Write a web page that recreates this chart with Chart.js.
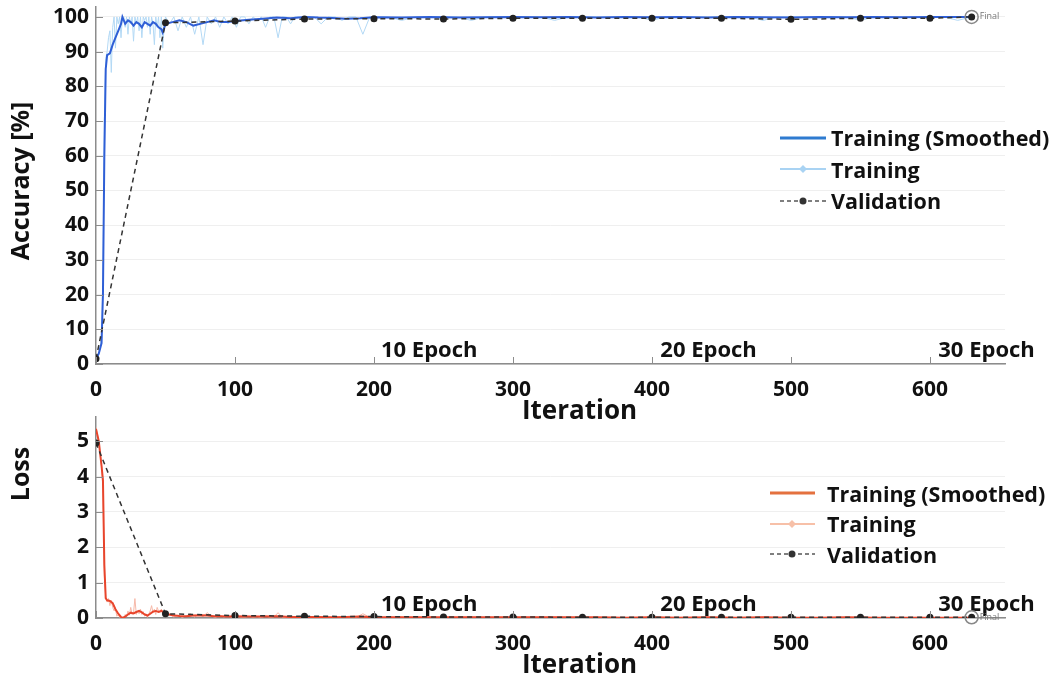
<!DOCTYPE html>
<html>
<head>
<meta charset="utf-8">
<script src="https://cdn.jsdelivr.net/npm/chart.js@4.4.0/dist/chart.umd.min.js"></script>
<style>
  body { margin: 0; background: #fff; width: 1052px; height: 682px; overflow: hidden; position: relative; font-family: "Open Sans", sans-serif; }
  #accBox { position: absolute; left: 0; top: -11px; width: 1052px; height: 436px; }
  #lossBox { position: absolute; left: 0; top: 399px; width: 1052px; height: 280px; }
  .legend { position: absolute; font-weight: 700; font-size: 21.5px; color: #111; }
  .legend div { display: flex; align-items: center; white-space: nowrap; }
  #accLegend { left: 780px; top: 122px; }
  #accLegend div { height: 31.5px; }
  #accLegend svg { margin-right: 5px; }
  #lossLegend { left: 770px; top: 478px; }
  #lossLegend div { height: 30.5px; }
  #lossLegend svg { margin-right: 12px; }
</style>
</head>
<body>
<div id="accBox"><canvas id="accChart"></canvas></div>
<div id="lossBox"><canvas id="lossChart"></canvas></div>

<div class="legend" id="accLegend">
  <div><svg width="46" height="14"><line x1="0" y1="7" x2="46" y2="7" stroke="#2e7bd0" stroke-width="3"/></svg>Training (Smoothed)</div>
  <div><svg width="46" height="14"><line x1="0" y1="7" x2="46" y2="7" stroke="#a9d3f3" stroke-width="2"/><path d="M23 3 L27 7 L23 11 L19 7 Z" fill="#a9d3f3"/></svg>Training</div>
  <div><svg width="46" height="14"><line x1="0" y1="7" x2="46" y2="7" stroke="#555" stroke-width="1.5" stroke-dasharray="4 3"/><circle cx="23" cy="7" r="3.5" fill="#333"/></svg>Validation</div>
</div>
<div class="legend" id="lossLegend">
  <div><svg width="45" height="14"><line x1="0" y1="7" x2="45" y2="7" stroke="#e4713f" stroke-width="3"/></svg>Training (Smoothed)</div>
  <div><svg width="45" height="14"><line x1="0" y1="7" x2="45" y2="7" stroke="#f7c0a8" stroke-width="2"/><path d="M22 3 L26 7 L22 11 L18 7 Z" fill="#f7c0a8"/></svg>Training</div>
  <div><svg width="45" height="14"><line x1="0" y1="7" x2="45" y2="7" stroke="#555" stroke-width="1.5" stroke-dasharray="4 3"/><circle cx="22" cy="7" r="3.5" fill="#333"/></svg>Validation</div>
</div>

<script>
// iterations of the raw training log
const rawIter = [
  0, 1, 2, 3, 4, 5, 6, 7, 8, 9,
  10, 11, 12, 13, 14, 15, 16, 17, 18, 19,
  20, 21, 22, 23, 24, 25, 26, 27, 28, 29,
  30, 31, 32, 33, 34, 35, 36, 37, 38, 39,
  40, 41, 42, 43, 44, 45, 46, 47, 48, 49,
  50, 53, 56, 59, 62, 65, 68, 71, 74, 77,
  80, 83, 86, 89, 92, 95, 98, 101, 104, 107,
  110, 113, 116, 119, 122, 125, 128, 131, 134, 137,
  140, 143, 146, 149, 152, 157, 162, 167, 172, 177,
  182, 187, 192, 197, 202, 210, 220, 230, 240, 250,
  260, 270, 280, 290, 300, 310, 320, 330, 340, 350,
  360, 370, 380, 390, 400, 410, 420, 430, 440, 450,
  460, 470, 480, 490, 500, 510, 520, 530, 540, 550,
  560, 570, 580, 590, 600, 610, 620, 630
];
const rawAcc = [
  0, 2, 3, 5, 8, 25, 70, 88, 90, 94,
  96, 84, 97, 100, 91, 100, 98, 100, 94, 100,
  100, 97, 100, 95, 100, 98, 100, 93, 100, 98,
  100, 96, 100, 94, 100, 99, 100, 97, 100, 95,
  100, 98, 92, 100, 97, 100, 94, 100, 91, 97,
  100, 98, 100, 96, 100, 97, 100, 95, 100, 92,
  100, 98, 100, 97, 100, 98, 100, 97, 100, 100,
  98, 100, 99, 100, 97, 100, 100, 94, 100, 100,
  98, 100, 100, 99, 100, 100, 98, 100, 100, 99,
  100, 100, 95, 100, 100, 100, 99, 100, 100, 100,
  100, 99, 100, 100, 100, 100, 100, 99, 100, 100,
  100, 100, 100, 100, 99, 100, 100, 100, 100, 100,
  100, 100, 99, 100, 100, 100, 100, 100, 100, 99,
  100, 100, 100, 100, 100, 100, 99, 100
];
const rawLoss = [
  5.4, 5.2, 5.0, 4.6, 4.3, 3.6, 1.2, 0.6, 0.45, 0.55,
  0.35, 0.5, 0.3, 0.2, 0.25, 0.05, 0.1, 0.02, 0, 0.02,
  0, 0.1, 0.04, 0.2, 0.08, 0.3, 0.1, 0.15, 0.55, 0.1,
  0.2, 0.12, 0.25, 0.1, 0.18, 0.05, 0.12, 0.02, 0.1, 0.2,
  0.35, 0.15, 0.25, 0.1, 0.3, 0.2, 0.15, 0.25, 0.1, 0.15,
  0.05, 0.1, 0.03, 0.08, 0.02, 0.06, 0.12, 0.03, 0.1, 0.04,
  0.15, 0.05, 0.02, 0.08, 0.03, 0.06, 0.02, 0.07, 0.03, 0.02,
  0.05, 0.02, 0.04, 0.01, 0.06, 0.02, 0.03, 0.15, 0.02, 0.01,
  0.04, 0.02, 0.01, 0.03, 0.02, 0.01, 0.04, 0.02, 0.01, 0.03,
  0.02, 0.01, 0.12, 0.02, 0.01, 0.02, 0.03, 0.01, 0.02, 0.01,
  0.02, 0.03, 0.01, 0.02, 0.01, 0.02, 0.01, 0.03, 0.01, 0.02,
  0.01, 0.02, 0.01, 0.01, 0.03, 0.01, 0.02, 0.01, 0.01, 0.02,
  0.01, 0.01, 0.03, 0.01, 0.01, 0.02, 0.01, 0.01, 0.01, 0.03,
  0.01, 0.01, 0.01, 0.02, 0.01, 0.01, 0.02, 0.01
];

// smoothed curves
const smoothIter = [
  0, 2, 4, 5, 6, 7, 8, 10, 12, 14,
  16, 18, 19, 21, 23, 25, 27, 29, 31, 33,
  35, 37, 39, 41, 43, 45, 47, 48, 50, 55,
  60, 65, 70, 75, 80, 85, 90, 95, 100, 110,
  120, 130, 140, 150, 160, 170, 180, 190, 200, 220,
  240, 260, 280, 300, 320, 340, 360, 380, 400, 420,
  440, 460, 480, 500, 520, 540, 560, 580, 600, 620,
  630
];
const smoothAcc = [
  1.5, 3, 6, 20, 60, 85, 89, 89.5, 92, 94,
  96, 98, 100, 98, 99, 98.5, 97.5, 98.5, 98, 97,
  98.5, 98, 97.5, 98.5, 98, 97, 96.5, 95.5, 98, 98.5,
  99, 98.5, 97.5, 98, 98.5, 99, 98.5, 98.5, 98.8, 99.2,
  99.5, 99.8, 99.6, 100, 99.8, 99.7, 99.5, 99.6, 99.9, 99.8,
  100, 99.8, 99.9, 100, 99.9, 100, 99.8, 100, 99.9, 100,
  99.8, 100, 99.9, 99.8, 100, 99.9, 100, 99.9, 100, 100,
  100
];
const smoothLoss = [
  5.35, 5.0, 4.3, 3.9, 1.5, 0.56, 0.5, 0.48, 0.42, 0.25,
  0.12, 0.03, 0, 0.04, 0.1, 0.15, 0.13, 0.17, 0.2, 0.16,
  0.1, 0.07, 0.12, 0.18, 0.2, 0.17, 0.2, 0.18, 0.12, 0.08,
  0.06, 0.05, 0.07, 0.08, 0.07, 0.05, 0.05, 0.04, 0.05, 0.04,
  0.04, 0.05, 0.03, 0.03, 0.03, 0.02, 0.03, 0.04, 0.02, 0.02,
  0.02, 0.02, 0.02, 0.02, 0.02, 0.02, 0.02, 0.01, 0.02, 0.01,
  0.02, 0.01, 0.02, 0.01, 0.01, 0.02, 0.01, 0.01, 0.01, 0.01,
  0.01
];

// validation checkpoints
const valIter = [0, 50, 100, 150, 200, 250, 300, 350, 400, 450, 500, 550, 600, 630];
const valAcc = [1.5, 98.3, 98.8, 99.4, 99.5, 99.4, 99.6, 99.6, 99.6, 99.6, 99.3, 99.6, 99.6, 100];
const valLoss = [4.95, 0.12, 0.07, 0.05, 0.04, 0.03, 0.03, 0.02, 0.02, 0.02, 0.02, 0.02, 0.02, 0.02];

// tick labels
const iterTicks = [0, 100, 200, 300, 400, 500, 600];
const accTicks = [0, 10, 20, 30, 40, 50, 60, 70, 80, 90, 100];
const lossTicks = [0, 1, 2, 3, 4, 5];

const epochLabels = ['10 Epoch', '20 Epoch', '30 Epoch'];
const epochLabelAt = [205, 406, 606];
const xMax = 654;

Chart.defaults.font.family = '"Open Sans", sans-serif';
Chart.defaults.font.weight = 'bold';
Chart.defaults.color = '#111';

function pts(xs, ys) {
  return xs.map((v, i) => ({ x: v, y: ys[i] }));
}

const extras = {
  id: 'extras',
  afterDatasetsDraw(chart, args, opts) {
    const { ctx, chartArea: a, scales: { x, y } } = chart;
    ctx.save();
    // small inward tick marks
    ctx.strokeStyle = '#8c8c8c';
    ctx.lineWidth = 1;
    y.ticks.forEach(t => {
      const py = Math.round(y.getPixelForValue(t.value)) + 0.5;
      ctx.beginPath(); ctx.moveTo(a.left, py); ctx.lineTo(a.left + 7, py); ctx.stroke();
    });
    x.ticks.forEach(t => {
      const px = Math.round(x.getPixelForValue(t.value)) + 0.5;
      ctx.beginPath(); ctx.moveTo(px, a.bottom); ctx.lineTo(px, a.bottom - 7); ctx.stroke();
    });
    // epoch labels
    ctx.font = 'bold 22px "Open Sans", sans-serif';
    ctx.fillStyle = '#111';
    ctx.textBaseline = 'alphabetic';
    ctx.textAlign = 'left';
    epochLabelAt.forEach((v, i) => ctx.fillText(epochLabels[i], x.getPixelForValue(v), a.bottom - 7));
    // axis titles
    ctx.textAlign = 'center';
    ctx.textBaseline = 'middle';
    ctx.font = 'bold 26px "Open Sans", sans-serif';
    ctx.fillText('Iteration', (a.left + a.right) / 2 + 29, chart.height - 13);
    ctx.save();
    ctx.translate(22, opts.titleY);
    ctx.rotate(-Math.PI / 2);
    ctx.font = 'bold 25px "Open Sans", sans-serif';
    ctx.fillText(opts.title, 0, 0);
    ctx.restore();
    // final marker
    const meta = chart.getDatasetMeta(0);
    const last = meta.data[meta.data.length - 1];
    ctx.strokeStyle = '#888';
    ctx.lineWidth = 1.5;
    ctx.beginPath(); ctx.arc(last.x, last.y, 6.5, 0, Math.PI * 2); ctx.stroke();
    ctx.font = '9px "Open Sans", sans-serif';
    ctx.fillStyle = '#777';
    ctx.textAlign = 'left';
    ctx.fillText('Final', last.x + 8, last.y);
    ctx.restore();
  }
};

function makeChart(id, cfg) {
  return new Chart(document.getElementById(id).getContext('2d'), {
    type: 'line',
    data: {
      datasets: [
        {
          label: 'Validation',
          data: pts(valIter, cfg.val),
          borderColor: '#333',
          backgroundColor: '#222',
          borderWidth: 1.5,
          borderDash: [5, 4],
          pointRadius: 3.5,
          pointBorderWidth: 0,
          tension: 0,
        },
        {
          label: 'Training (Smoothed)',
          data: pts(smoothIter, cfg.smooth),
          borderColor: cfg.smoothColor,
          borderWidth: 2,
          pointRadius: 0,
          tension: 0,
        },
        {
          label: 'Training',
          data: pts(rawIter, cfg.raw),
          borderColor: cfg.rawColor,
          borderWidth: 1,
          pointRadius: 0,
          tension: 0,
        },
      ],
    },
    options: {
      responsive: true,
      maintainAspectRatio: false,
      animation: false,
      layout: { padding: { left: 0, right: 47, top: 0, bottom: 0 } },
      plugins: {
        legend: { display: false },
        tooltip: { enabled: false },
        extras: { title: cfg.title, titleY: cfg.titleY },
      },
      scales: {
        x: {
          type: 'linear',
          min: 0,
          max: xMax,
          ticks: { padding: 8, font: { size: 21, lineHeight: 1 }, maxRotation: 0 },
          afterBuildTicks: s => { s.ticks = iterTicks.map(v => ({ value: v })); },
          afterFit: s => { s.height = 61; },
          grid: { display: false },
          border: { color: '#8c8c8c', width: 1.5 },
        },
        y: {
          min: 0,
          max: cfg.yMax,
          ticks: { padding: 7, font: { size: 21, lineHeight: 1 } },
          afterBuildTicks: s => { s.ticks = cfg.ticks.map(v => ({ value: v })); },
          afterFit: s => { s.width = 96; },
          grid: { color: '#efefef', drawTicks: false },
          border: { color: '#8c8c8c', width: 1.5 },
        },
      },
    },
    plugins: [extras],
  });
}

makeChart('accChart', {
  val: valAcc, smooth: smoothAcc, raw: rawAcc, ticks: accTicks,
  smoothColor: '#2f5fd6', rawColor: '#b3d9f5',
  yMax: 103, title: 'Accuracy [%]', titleY: 192,
});
makeChart('lossChart', {
  val: valLoss, smooth: smoothLoss, raw: rawLoss, ticks: lossTicks,
  smoothColor: '#e8452c', rawColor: '#f6b8a8',
  yMax: 5.7, title: 'Loss', titleY: 75,
});
</script>
</body>
</html>
